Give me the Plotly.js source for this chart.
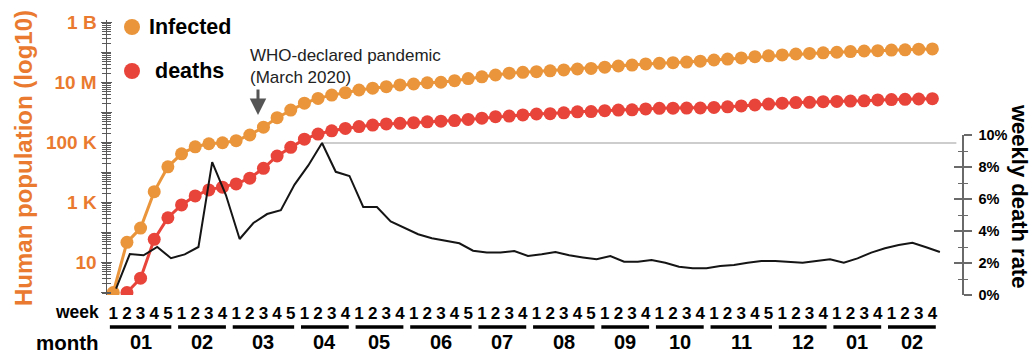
<!DOCTYPE html>
<html>
<head>
<meta charset="utf-8">
<script src="https://cdn.plot.ly/plotly-3.0.1.min.js"></script>
<style>html,body{margin:0;padding:0;background:#fff;}#chart{width:1035px;height:353px;}</style>
</head>
<body>
<div id="chart"></div>
<script>
// ---- data ----
const monthLabels = ['01','02','03','04','05','06','07','08','09','10','11','12','01','02'];
const weeksPerMonth = [5,4,5,4,4,5,4,5,4,4,5,4,4,4];

const infected = [1, 47, 140, 2300, 15500, 42000, 72000, 91000, 98000, 115000,
  178000, 324000, 670000, 1200000, 2040000, 2950000, 3800000, 4570000, 5620000, 6460000,
  7240000, 8300000, 8900000, 9800000, 10200000, 11500000, 13500000, 15500000, 17800000, 20400000,
  21900000, 22900000, 24500000, 26300000, 28200000, 29500000, 32400000, 35500000, 38000000, 41700000,
  43700000, 45700000, 47900000, 51300000, 56200000, 60300000, 66100000, 72400000, 77600000, 83200000,
  89100000, 93300000, 97700000, 102000000, 107000000, 112000000, 115000000, 120000000, 123000000, 129000000,
  132000000];

const deaths = [null, 1, 3, 59, 310, 830, 1660, 2630, 3240, 4170,
  6460, 13800, 35500, 69000, 129000, 191000, 245000, 295000, 339000, 380000,
  417000, 437000, 457000, 490000, 513000, 537000, 589000, 646000, 724000, 759000,
  832000, 891000, 912000, 977000, 1050000, 1070000, 1150000, 1200000, 1230000, 1320000,
  1380000, 1390000, 1400000, 1410000, 1480000, 1550000, 1660000, 1780000, 1910000, 2040000,
  2140000, 2190000, 2290000, 2340000, 2400000, 2450000, 2630000, 2690000, 2750000, 2820000,
  2880000];

const deathRate = [0.4, 2.56, 2.48, 3.0, 2.3, 2.54, 3.0, 8.3, 6.25, 3.5,
  4.5, 5.06, 5.3, 6.9, 8.1, 9.5, 7.7, 7.44, 5.5, 5.5,
  4.6, 4.2, 3.8, 3.55, 3.37, 3.23, 2.77, 2.65, 2.65, 2.75,
  2.44, 2.54, 2.69, 2.48, 2.35, 2.23, 2.44, 2.08, 2.08, 2.19,
  2.02, 1.77, 1.67, 1.67, 1.81, 1.87, 2.02, 2.12, 2.12, 2.08,
  2.02, 2.12, 2.23, 2.02, 2.29, 2.65, 2.92, 3.13, 3.27, 2.98,
  2.69];

const leftTickVals = [1, 10, 100, 1e3, 1e4, 1e5, 1e6, 1e7, 1e8, 1e9];
const leftTickText = ['', '10', '', '1 K', '', '100 K', '', '10 M', '', '1 B'];
const rightTickVals = [0, 2, 4, 6, 8, 10];
const rightTickText = ['0%', '2%', '4%', '6%', '8%', '10%'];

// ---- derived ----
const weekIdx = [], weekLabels = [], monthSpans = [];
let k = 0;
weeksPerMonth.forEach((n, m) => {
  monthSpans.push([k, k + n - 1]);
  for (let w = 1; w <= n; w++) { weekIdx.push(k); weekLabels.push(String(w)); k++; }
});

const FONT = 'Liberation Sans, Arial, sans-serif';
const ORANGE = '#EA953B';
const ORANGE_TXT = '#E97A2F';
const RED = '#E8443A';
const AX = '#5a5a5a';

// plot area in px: x 107..962, y 20..295
const L = 107, R = 962, T = 20, B = 295;
const px = v => (v - L) / (R - L);
const py = v => (B - v) / (B - T);

const traces = [
  {x: weekIdx, y: infected, mode: 'lines+markers', line: {color: ORANGE, width: 3},
   marker: {color: ORANGE, size: 13}, hoverinfo: 'skip'},
  {x: weekIdx, y: deaths, mode: 'lines+markers', line: {color: RED, width: 3},
   marker: {color: RED, size: 13}, hoverinfo: 'skip'},
  {x: weekIdx, y: deathRate, xaxis: 'x2', yaxis: 'y2', mode: 'lines',
   line: {color: '#151515', width: 2}, hoverinfo: 'skip'},
  {x: [], y: [], yaxis: 'y3', hoverinfo: 'skip'},
  {x: [], y: [], xaxis: 'x2', yaxis: 'y4', hoverinfo: 'skip'}
];

const rateMax = Math.max(...deathRate);

const annotations = [
  {text: 'Human population (log10)', xref: 'paper', yref: 'paper', x: px(23), y: py(158),
   xanchor: 'center', yanchor: 'middle',
   textangle: -90, showarrow: false, font: {family: FONT, size: 24, color: ORANGE_TXT, weight: 'bold'}},
  {text: 'weekly death rate', xref: 'paper', yref: 'paper', x: px(1020), y: py(196),
   xanchor: 'center', yanchor: 'middle',
   textangle: 90, showarrow: false, font: {family: FONT, size: 22, color: '#000', weight: 'bold'}},
  {text: 'week', xref: 'paper', yref: 'paper', x: px(101), y: py(312), xanchor: 'right', yanchor: 'middle',
   showarrow: false, font: {family: FONT, size: 17.5, color: '#000', weight: 'bold'}},
  {text: 'month', xref: 'paper', yref: 'paper', x: px(101), y: py(342), xanchor: 'right', yanchor: 'middle',
   showarrow: false, font: {family: FONT, size: 20.5, color: '#000', weight: 'bold'}},
  {text: 'Infected', xref: 'paper', yref: 'paper', x: px(147), y: py(27), xanchor: 'left', yanchor: 'middle',
   showarrow: false, font: {family: FONT, size: 21.5, color: '#000', weight: 'bold'}},
  {text: 'deaths', xref: 'paper', yref: 'paper', x: px(153), y: py(71), xanchor: 'left', yanchor: 'middle',
   showarrow: false, font: {family: FONT, size: 21.5, color: '#000', weight: 'bold'}},
  {text: 'WHO-declared pandemic<br>(March 2020)', xref: 'paper', yref: 'paper', x: px(248), y: py(44),
   xanchor: 'left', yanchor: 'top', align: 'left', showarrow: false,
   font: {family: FONT, size: 17, color: '#222'}},
  {text: '', xref: 'x', yref: 'y', x: 10.6, y: 5.92, ax: 0, ay: -27,
   showarrow: true, arrowhead: 2, arrowsize: 1.1, arrowwidth: 3, arrowcolor: '#555'}
];
monthSpans.forEach((s, i) => {
  annotations.push({text: monthLabels[i], xref: 'x', yref: 'paper', x: (s[0] + s[1]) / 2, y: py(342),
    xanchor: 'center', yanchor: 'middle', showarrow: false,
    font: {family: FONT, size: 20, color: '#000', weight: 'bold'}});
});

const shapes = [
  {type: 'line', xref: 'x2', yref: 'y2', x0: 15, x1: 61.2, y0: rateMax, y1: rateMax,
   line: {color: '#bdbdbd', width: 1.5}, layer: 'below'},
  {type: 'circle', xref: 'paper', yref: 'paper', xsizemode: 'pixel', ysizemode: 'pixel',
   xanchor: px(132), yanchor: py(27), x0: -8, x1: 8, y0: -8, y1: 8, fillcolor: ORANGE, line: {width: 0}},
  {type: 'circle', xref: 'paper', yref: 'paper', xsizemode: 'pixel', ysizemode: 'pixel',
   xanchor: px(132), yanchor: py(71), x0: -8, x1: 8, y0: -8, y1: 8, fillcolor: RED, line: {width: 0}}
];
monthSpans.forEach(s => {
  shapes.push({type: 'line', xref: 'x', yref: 'paper', x0: s[0] - 0.25, x1: s[1] + 0.25,
    y0: py(327), y1: py(327), line: {color: '#000', width: 3.5}});
});

const leftRange = [(292.5 - B) / 30, (292.5 - T) / 30];
const yLeftCommon = {
  type: 'log', range: leftRange, tickvals: leftTickVals, ticktext: leftTickText,
  showgrid: false, zeroline: false, ticklen: 5, tickwidth: 1.3, tickcolor: AX,
  minor: {dtick: 'D1', ticklen: 4, tickwidth: 1, tickcolor: AX, showgrid: false}
};
const yRightCommon = {
  range: [0, 10], tickvals: rightTickVals, ticktext: rightTickText,
  showgrid: false, zeroline: false, ticklen: 8, tickwidth: 1.3, tickcolor: '#6a6a6a',
  minor: {dtick: 1, tick0: 0, ticklen: 4, tickwidth: 1, tickcolor: '#6a6a6a', showgrid: false}
};

const layout = {
  width: 1035, height: 353,
  margin: {l: L, r: 1035 - R, t: T, b: 353 - B, pad: 0},
  paper_bgcolor: '#fff', plot_bgcolor: 'rgba(0,0,0,0)',
  showlegend: false,
  font: {family: FONT, color: '#000'},
  xaxis: {
    range: [-0.46, 62.17], tickmode: 'array', tickvals: weekIdx, ticktext: weekLabels,
    tickfont: {family: FONT, size: 17, color: '#000', weight: 'bold'},
    showgrid: false, zeroline: false, showline: false, ticks: '', ticklabelstandoff: 6
  },
  yaxis: Object.assign({}, yLeftCommon, {
    ticks: 'outside', showline: true, linecolor: AX, linewidth: 1.5,
    tickfont: {family: FONT, size: 19, color: ORANGE_TXT, weight: 'bold'},
    minor: Object.assign({}, yLeftCommon.minor, {ticks: 'outside'})
  }),
  yaxis3: Object.assign({}, yLeftCommon, {
    overlaying: 'y', side: 'left', anchor: 'x', ticks: 'inside', showticklabels: false, showline: false,
    minor: Object.assign({}, yLeftCommon.minor, {ticks: 'inside'})
  }),
  xaxis2: {domain: [0, 1], anchor: 'y2', range: [-0.66, 61.61], visible: false},
  yaxis2: Object.assign({}, yRightCommon, {
    domain: [0, py(135)], anchor: 'x2', side: 'right', ticks: 'outside',
    showline: true, linecolor: '#6a6a6a', linewidth: 1.5,
    tickfont: {family: FONT, size: 14.5, color: '#000', weight: 'bold'}, ticklabelstandoff: 4,
    minor: Object.assign({}, yRightCommon.minor, {ticks: 'outside'})
  }),
  yaxis4: Object.assign({}, yRightCommon, {
    overlaying: 'y2', side: 'right', anchor: 'x2', ticks: 'inside', showticklabels: false, showline: false,
    minor: Object.assign({}, yRightCommon.minor, {ticks: 'inside'})
  }),
  annotations: annotations,
  shapes: shapes
};

Plotly.newPlot('chart', traces, layout, {staticPlot: true, displayModeBar: false});
</script>
</body>
</html>
